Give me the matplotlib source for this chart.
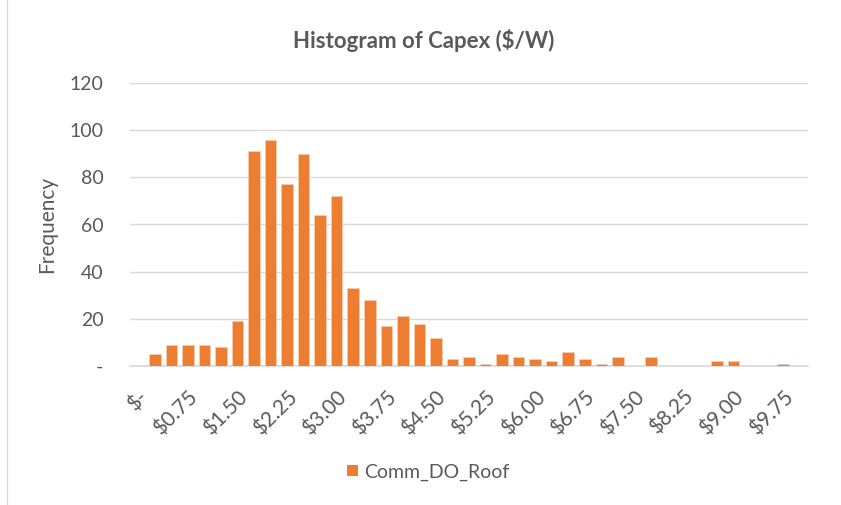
import numpy as np
import matplotlib.pyplot as plt
from matplotlib.patches import Patch

# bin labels ($/W), 0 to 10.00 in 0.25 steps
bins = [i * 0.25 for i in range(41)]
counts = [0, 5, 9, 9, 9, 8, 19, 91, 96, 77, 90, 64, 72, 33, 28, 17, 21, 18, 12,
          3, 4, 1, 5, 4, 3, 2, 6, 3, 1, 4, 0, 4, 0, 0, 0, 2, 2, 0, 0, 1, 0]
series_name = "Comm_DO_Roof"
yticks = [0, 20, 40, 60, 80, 100, 120]

bar_color = "#ED7D31"
text_color = "#595959"
grid_color = "#D9D9D9"


def money(v):
    return "$-" if v == 0 else "$%.2f" % v


def main():
    plt.rcParams['font.family'] = ['Lato', 'DejaVu Sans']
    fig = plt.figure(figsize=(8.41, 5.05), dpi=100)
    ax = fig.add_axes([130 / 841, 1 - 366 / 505, 678 / 841, 283 / 505])

    x = np.arange(len(bins))
    ax.bar(x, counts, width=0.7, color=bar_color, edgecolor="#F8CBAD",
           linewidth=0.6, zorder=3)

    ax.set_xlim(-0.5, len(bins) - 0.5)
    ax.set_ylim(0, 120)
    ax.set_yticks(yticks)
    ax.set_yticklabels(["-" if t == 0 else str(t) for t in yticks])
    ax.yaxis.grid(True, color=grid_color, linewidth=1.0, zorder=0)

    ax.set_xticks(x[::3])
    ax.set_xticklabels([money(b) for b in bins[::3]], rotation=45,
                       ha="right", va="top", rotation_mode="anchor")

    for s in ["top", "right", "left"]:
        ax.spines[s].set_visible(False)
    ax.spines["bottom"].set_color(grid_color)
    ax.spines["bottom"].set_linewidth(1.2)
    ax.tick_params(axis="both", length=0, labelsize=14, colors=text_color)
    ax.tick_params(axis="y", pad=19)
    ax.tick_params(axis="x", pad=15, labelsize=15)

    ax.set_ylabel("Frequency", fontsize=15, color=text_color, va="center")
    ax.yaxis.set_label_coords(-0.1224, 0.5)
    fig.text(424 / 841, 1 - 41 / 505, "Histogram of Capex ($/W)",
             ha="center", va="center", fontsize=16, fontweight="bold",
             color=text_color)

    handle = Patch(facecolor=bar_color, edgecolor="none")
    fig.legend([handle], [series_name], loc="center",
               bbox_to_anchor=(428 / 841, 1 - 472 / 505), frameon=False,
               fontsize=14, labelcolor=text_color, handlelength=0.55,
               handleheight=0.55, handletextpad=0.3)

    # thin chart-area border on the left edge
    fig.add_artist(plt.Line2D([7 / 841, 7 / 841], [0, 1], color=grid_color,
                              linewidth=1.0))

    fig.savefig("out.png", dpi=100)


if __name__ == '__main__':
    main()
